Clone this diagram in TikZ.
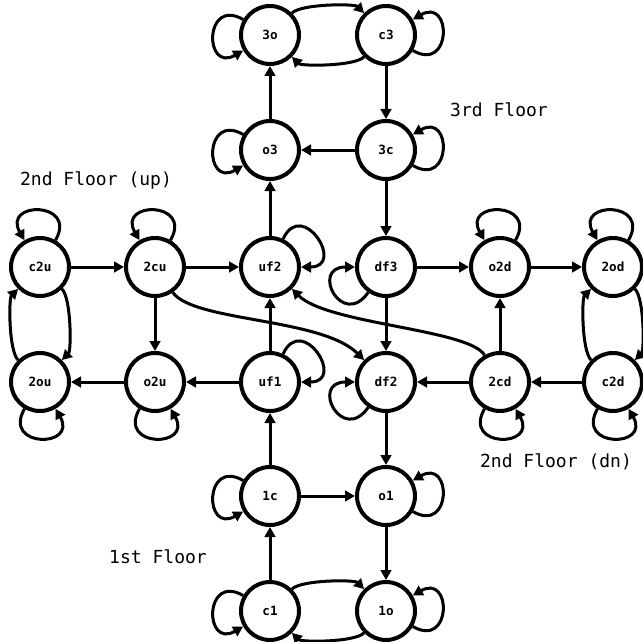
\documentclass[tikz,border=0pt]{standalone}
\usepackage{fontspec}
\newfontfamily\lblfont{DejaVu Sans Mono}
\usetikzlibrary{arrows.meta}
\begin{document}
\begin{tikzpicture}[x=0.75pt,y=0.75pt,
  state/.style={circle,draw,line width=3pt,minimum size=43.5pt,inner sep=0pt,
    font=\lblfont\bfseries\fontsize{9.5}{11}\selectfont},
  tr/.style={line width=2.25pt,-{Triangle[length=7.5pt,width=8pt]}},
  selfloop/.style={tr,distance=34pt},
  twin/.style={tr,distance=10pt},
  floorlbl/.style={font=\lblfont\fontsize{13.5}{16}\selectfont,inner sep=0pt}]
\useasboundingbox (0,0) rectangle (643,-642);
% nodes
\node[state] (n3o)  at (270,-35)  {3o};
\node[state] (nc3)  at (386,-35)  {c3};
\node[state] (no3)  at (270,-150) {o3};
\node[state] (n3c)  at (386,-150) {3c};
\node[state] (nc2u) at (40,-267)  {c2u};
\node[state] (n2cu) at (155,-267) {2cu};
\node[state] (nuf2) at (270,-267) {uf2};
\node[state] (ndf3) at (386,-267) {df3};
\node[state] (no2d) at (500,-267) {o2d};
\node[state] (n2od) at (613,-267) {2od};
\node[state] (n2ou) at (40,-382)  {2ou};
\node[state] (no2u) at (155,-382) {o2u};
\node[state] (nuf1) at (270,-382) {uf1};
\node[state] (ndf2) at (386,-382) {df2};
\node[state] (n2cd) at (500,-382) {2cd};
\node[state] (nc2d) at (613,-382) {c2d};
\node[state] (n1c)  at (270,-496) {1c};
\node[state] (no1)  at (386,-496) {o1};
\node[state] (nc1)  at (270,-611) {c1};
\node[state] (n1o)  at (386,-611) {1o};
% labels
\node[floorlbl] (l3) at (499,-110) {3rd Floor};
\node[floorlbl] (l2u) at (96,-180) {2nd Floor (up)};
\node[floorlbl] (l2d) at (556,-462) {2nd Floor (dn)};
\node[floorlbl] (l1) at (158,-557) {1st Floor};
% 3rd floor
\draw[twin] (n3o) to[out=45,in=135] (nc3);
\draw[twin] (nc3) to[out=225,in=-45] (n3o);
\draw[tr] (nc3) -- (n3c);
\draw[tr] (n3c) -- (no3);
\draw[tr] (no3) -- (n3o);
\draw[tr] (nuf2) -- (no3);
\draw[tr] (n3c) -- (ndf3);
\draw[selfloop] (n3o) to[out=150,in=210] (n3o);
\draw[selfloop] (no3) to[out=150,in=210] (no3);
\draw[selfloop] (nc3) to[out=-30,in=30] (nc3);
\draw[selfloop] (n3c) to[out=-30,in=30] (n3c);
% 2nd floor up
\draw[tr] (nc2u) -- (n2cu);
\draw[tr] (n2cu) -- (nuf2);
\draw[tr] (n2cu) -- (no2u);
\draw[tr] (no2u) -- (n2ou);
\draw[tr] (nuf1) -- (no2u);
\draw[tr] (nuf1) -- (nuf2);
\draw[twin] (nc2u) to[out=-45,in=45] (n2ou);
\draw[twin] (n2ou) to[out=135,in=225] (nc2u);
\draw[selfloop] (nc2u) to[out=60,in=120] (nc2u);
\draw[selfloop] (n2cu) to[out=60,in=120] (n2cu);
\draw[selfloop] (n2ou) to[out=240,in=300] (n2ou);
\draw[selfloop] (no2u) to[out=240,in=300] (no2u);
\draw[selfloop] (nuf2) to[out=65,in=0] (nuf2);
\draw[selfloop] (nuf1) to[out=65,in=0] (nuf1);
% cross curves
\draw[tr] (n2cu) to[out=-55,in=135,out distance=27pt,in distance=45pt] (ndf2);
\draw[tr] (n2cd) to[out=120,in=-45,out distance=22.5pt,in distance=37.5pt] (nuf2);
% 2nd floor down
\draw[tr] (ndf3) -- (no2d);
\draw[tr] (no2d) -- (n2od);
\draw[tr] (ndf3) -- (ndf2);
\draw[tr] (n2cd) -- (no2d);
\draw[tr] (n2cd) -- (ndf2);
\draw[tr] (nc2d) -- (n2cd);
\draw[twin] (n2od) to[out=-45,in=45] (nc2d);
\draw[twin] (nc2d) to[out=135,in=225] (n2od);
\draw[selfloop] (no2d) to[out=60,in=120] (no2d);
\draw[selfloop] (n2od) to[out=60,in=120] (n2od);
\draw[selfloop] (n2cd) to[out=240,in=300] (n2cd);
\draw[selfloop] (nc2d) to[out=240,in=300] (nc2d);
\draw[selfloop] (ndf3) to[out=235,in=180] (ndf3);
\draw[selfloop] (ndf2) to[out=235,in=180] (ndf2);
% 1st floor
\draw[tr] (ndf2) -- (no1);
\draw[tr] (n1c) -- (nuf1);
\draw[tr] (n1c) -- (no1);
\draw[tr] (no1) -- (n1o);
\draw[tr] (nc1) -- (n1c);
\draw[twin] (nc1) to[out=45,in=135] (n1o);
\draw[twin] (n1o) to[out=225,in=-45] (nc1);
\draw[selfloop] (n1c) to[out=150,in=210] (n1c);
\draw[selfloop] (nc1) to[out=150,in=210] (nc1);
\draw[selfloop] (no1) to[out=-30,in=30] (no1);
\draw[selfloop] (n1o) to[out=-30,in=30] (n1o);
\end{tikzpicture}
\end{document}
